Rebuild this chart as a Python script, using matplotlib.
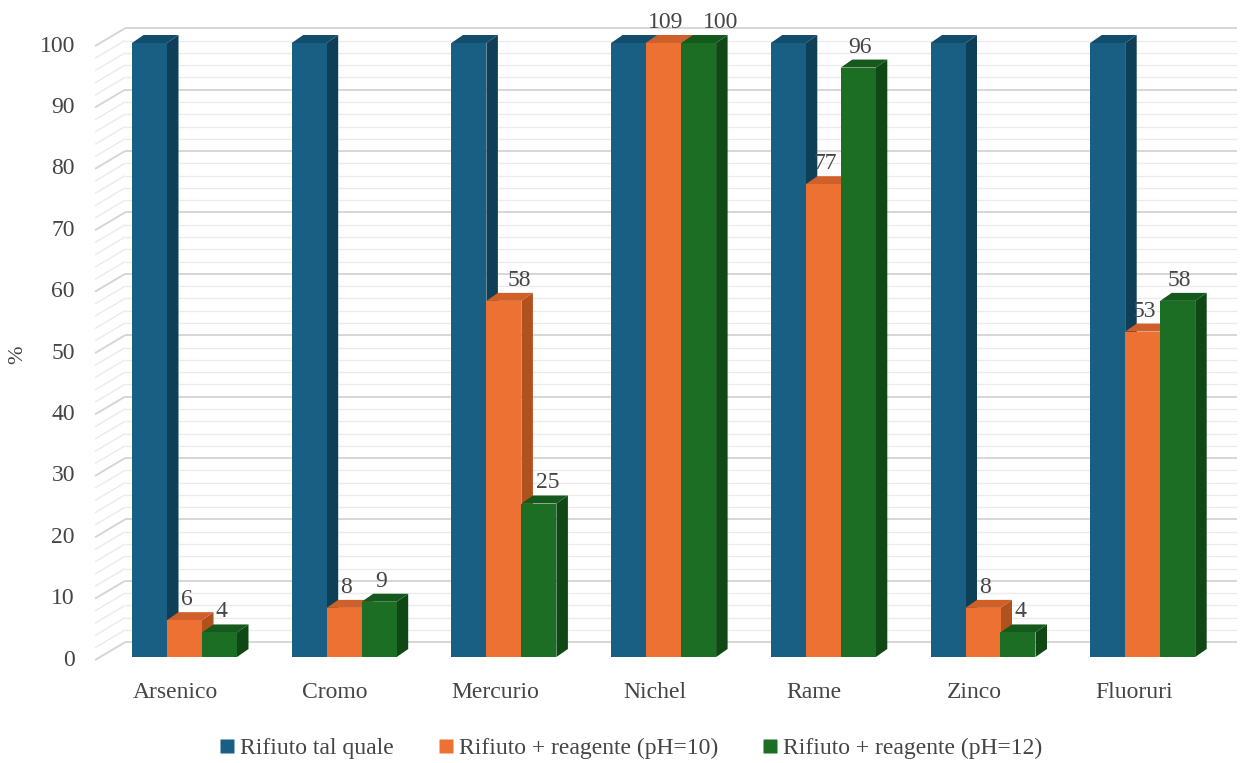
import matplotlib
matplotlib.use("Agg")
import matplotlib.pyplot as plt
from matplotlib.patches import Polygon
from matplotlib.lines import Line2D
import numpy as np

# ---------------- data ----------------
categories = ["Arsenico", "Cromo", "Mercurio", "Nichel", "Rame", "Zinco", "Fluoruri"]
series_names = ["Rifiuto tal quale", "Rifiuto + reagente (pH=10)", "Rifiuto + reagente (pH=12)"]
tal_quale = [100, 100, 100, 100, 100, 100, 100]
ph10 = [6, 8, 58, 109, 77, 8, 53]
ph12 = [4, 9, 25, 100, 96, 4, 58]
show_labels = [False, True, True]
y_ticks = [0, 10, 20, 30, 40, 50, 60, 70, 80, 90, 100]
y_label = "%"

# ---------------- style ----------------
W, H = 1247, 763
PX_X = 159.7      # pixels per category
PX_Y = 6.14       # pixels per unit
X0_PX = 184.5     # pixel x of category 0
Y0_PX = 657       # pixel y (from top) of value 0
front_cols = ["#195f83", "#ec7132", "#1b6e24"]
side_cols = ["#0f3e57", "#b0511e", "#0f4715"]
top_cols = ["#134d6c", "#d0602a", "#155a1c"]
txt_col = "#454545"
FONT = "Liberation Serif"
FS = 17

def dxp(px):
    return px / PX_X

def dyp(px):
    return px / PX_Y

fig = plt.figure(figsize=(W / 100, H / 100), dpi=100)
ax = fig.add_axes([0, 0, 1, 1])
ax.set_xlim(-X0_PX / PX_X, (W - X0_PX) / PX_X)
ax.set_ylim(-(H - Y0_PX) / PX_Y, Y0_PX / PX_Y)
ax.axis("off")

ymax = max(y_ticks)

# ---------------- walls ----------------
x_front = dxp(95 - X0_PX)
x_back = dxp(125 - X0_PX)
x_right = dxp(1237 - X0_PX)
back_off = 2.4
front_off = -0.5
for v in np.arange(0, ymax + 0.1, 2):
    major = (v % 10 == 0)
    col = "#d6d6d6" if major else "#ebebeb"
    lw = 1.4 if major else 1.0
    ax.plot([x_back, x_right], [v + back_off, v + back_off], color=col, lw=lw, zorder=1,
            solid_capstyle="butt")
    ax.plot([x_front, x_back], [v + front_off, v + back_off], color=col, lw=lw, zorder=1,
            solid_capstyle="butt")

# ---------------- bars ----------------
bw = dxp(35)
ddx = dxp(11.5)
ddy = dyp(8)
series = [tal_quale, ph10, ph12]
xc = np.arange(len(categories))
offsets = [-bw, 0, bw]
label_nudge = {(2, 1): 15, (2, 2): 9, (3, 2): 22}

for i in range(len(categories)):
    for s, (vals, off) in enumerate(zip(series, offsets)):
        v = min(vals[i], ymax)
        z = 3 + s * 0.1 + i
        x0 = xc[i] + off - bw / 2
        x1 = x0 + bw
        ax.bar(x0 + bw / 2, v, width=bw, color=front_cols[s], zorder=z + 0.02, linewidth=0)
        ax.add_patch(Polygon([(x0, v), (x1, v), (x1 + ddx, v + ddy), (x0 + ddx, v + ddy)],
                             closed=True, facecolor=top_cols[s], edgecolor="none", zorder=z + 0.01))
        ax.add_patch(Polygon([(x1, 0), (x1 + ddx, ddy), (x1 + ddx, v + ddy), (x1, v)],
                             closed=True, facecolor=side_cols[s], edgecolor="none", zorder=z))
        if show_labels[s]:
            nx = label_nudge.get((i, s), 2)
            ax.text(x0 + bw / 2 + dxp(nx), v + ddy + dyp(2), str(vals[i]), ha="center", va="bottom",
                    fontsize=FS, family=FONT, color=txt_col, zorder=20)

# ---------------- axis labels ----------------
for t in y_ticks:
    ax.text(dxp(75 - X0_PX), t + front_off, str(t), ha="right", va="center",
            fontsize=FS, family=FONT, color=txt_col)

for i, c in enumerate(categories):
    ax.text(xc[i] - dxp(9), dyp(-35), c, ha="center", va="center",
            fontsize=FS, family=FONT, color=txt_col)

ax.text(dxp(18 - X0_PX), dyp(Y0_PX - 355), y_label, rotation=90, ha="center", va="center",
        fontsize=FS - 1, family=FONT, color=txt_col)

# ---------------- legend ----------------
handles = [Line2D([0], [0], marker="s", linestyle="none", markersize=10,
                  markerfacecolor=front_cols[s], markeredgecolor="none")
           for s in range(3)]
leg = fig.legend(handles, series_names, loc="center", bbox_to_anchor=(631 / W, 1 - 748 / H),
                 ncol=3, frameon=False, handlelength=0.6, handletextpad=0.25,
                 columnspacing=1.9, prop={"family": FONT, "size": FS})
for t in leg.get_texts():
    t.set_color(txt_col)

fig.savefig("out.png", dpi=100)
